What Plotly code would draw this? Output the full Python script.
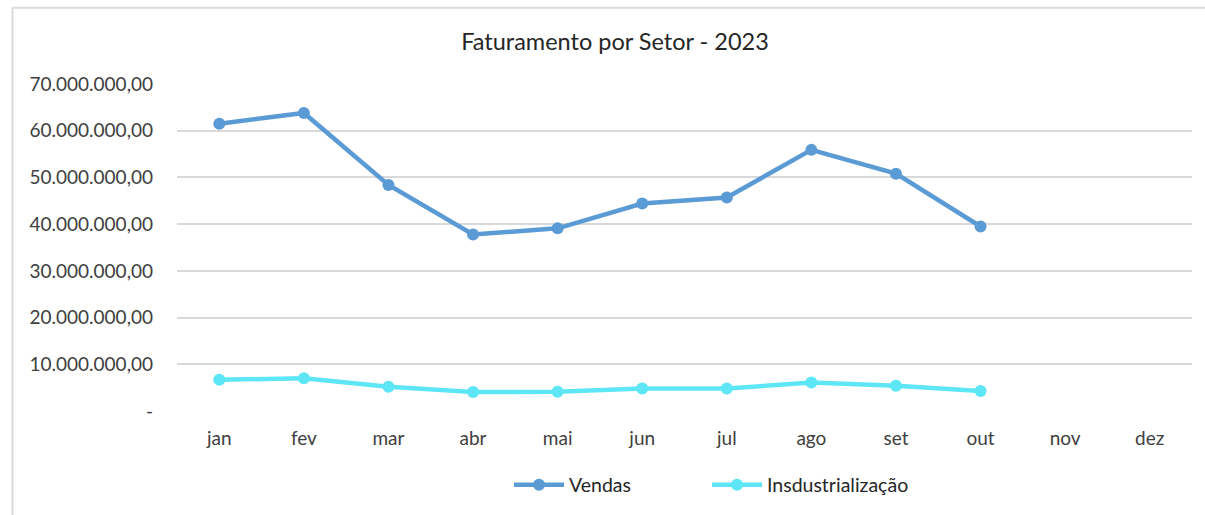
import plotly.graph_objects as go

months = ["jan", "fev", "mar", "abr", "mai", "jun", "jul", "ago", "set", "out", "nov", "dez"]
vendas = [61.5e6, 63.8e6, 48.4e6, 37.8e6, 39.1e6, 44.4e6, 45.7e6, 55.9e6, 50.8e6, 39.5e6, None, None]
indus = [6.7e6, 7.0e6, 5.2e6, 4.05e6, 4.1e6, 4.8e6, 4.8e6, 6.1e6, 5.4e6, 4.3e6, None, None]
y_ticks = [0, 10e6, 20e6, 30e6, 40e6, 50e6, 60e6, 70e6]


def fmt(v):
    if v == 0:
        return "-"
    s = f"{v:,.2f}"
    return s.replace(",", "X").replace(".", ",").replace("X", ".")


y_text = [fmt(v) for v in y_ticks]

FONT = "Lato"
W, H = 1205, 515
L, R, T, B = 177, 13, 84, 103
PW, PH = W - L - R, H - T - B

fig = go.Figure()
fig.add_trace(go.Scatter(x=months, y=vendas, name="Vendas", mode="lines+markers",
                         line=dict(color="#5B9BD5", width=4.5),
                         marker=dict(size=12, color="#5B9BD5"), legend="legend"))
fig.add_trace(go.Scatter(x=months, y=indus, name="Insdustrialização", mode="lines+markers",
                         line=dict(color="#5DE6F6", width=4.5),
                         marker=dict(size=12, color="#5DE6F6"), legend="legend2"))

bx = -(L - 12.5) / PW
by = 1 + (T - 7.5) / PH
leg_y = -(485 - (T + PH)) / PH
leg_common = dict(orientation="h", xanchor="left", y=leg_y, yanchor="middle",
                  font=dict(family=FONT, size=19.5, color="#262626"),
                  itemwidth=50, bgcolor="rgba(0,0,0,0)")
fig.update_layout(
    width=W, height=H,
    paper_bgcolor="white", plot_bgcolor="white",
    margin=dict(l=L, r=R, t=T, b=B),
    title=dict(text="Faturamento por Setor - 2023", x=615 / W, xanchor="center",
               y=1 - 42 / H, yanchor="middle",
               font=dict(family=FONT, size=23.5, color="#262626")),
    font=dict(family=FONT, size=19, color="#404040"),
    showlegend=True,
    legend=dict(x=(509 - L) / PW, **leg_common),
    legend2=dict(x=(707 - L) / PW, **leg_common),
    xaxis=dict(type="category", range=[-0.5, 11.5], showgrid=False, showline=False,
               ticks="", zeroline=False, ticklabelstandoff=14,
               tickfont=dict(size=19, color="#404040")),
    yaxis=dict(range=[0, 70e6], tickvals=y_ticks, ticktext=y_text, showgrid=True,
               gridcolor="#D9D9D9", gridwidth=1.5, zeroline=False, showline=False,
               ticks="", ticklabelstandoff=23, tickfont=dict(size=19, color="#404040")),
    shapes=[
        dict(type="line", xref="paper", yref="paper", x0=bx, x1=(W - L) / PW,
             y0=by, y1=by, line=dict(color="#D9D9D9", width=2)),
        dict(type="line", xref="paper", yref="paper", x0=bx, x1=bx,
             y0=by, y1=-B / PH - 0.01, line=dict(color="#D9D9D9", width=2)),
    ],
)
fig.write_html("out.html", config={"displayModeBar": False},
               post_script="document.body.style.margin='0';")
